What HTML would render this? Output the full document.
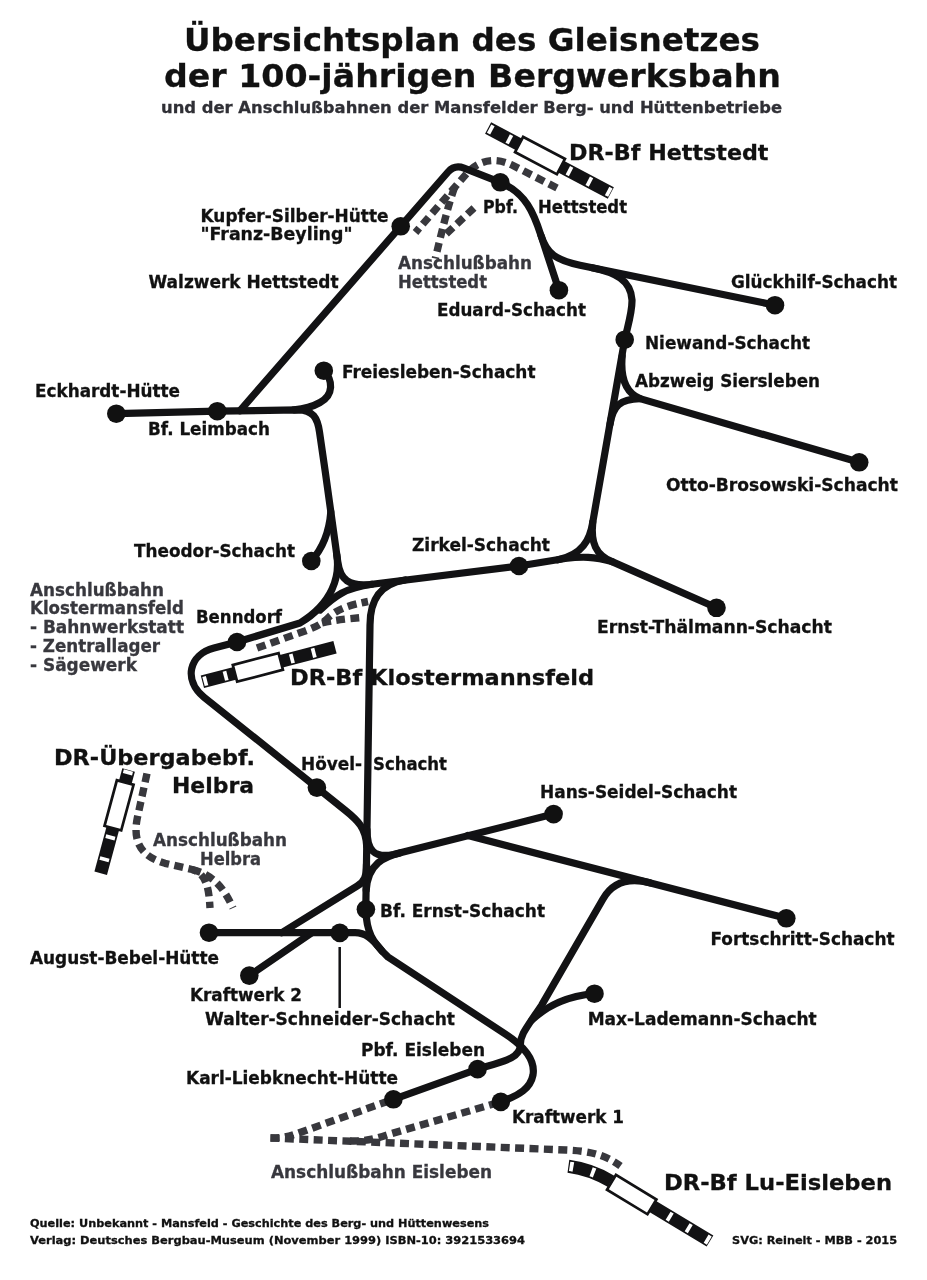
<!DOCTYPE html>
<html lang="de"><head><meta charset="utf-8"><title>Übersichtsplan des Gleisnetzes der Bergwerksbahn</title>
<style>html,body{margin:0;padding:0;background:#fff}svg{display:block;will-change:transform}text{font-family:"DejaVu Sans","Liberation Sans",sans-serif;font-weight:bold}</style></head><body>
<svg width="927" height="1280" viewBox="0 0 927 1280">
<rect width="927" height="1280" fill="#fff"/>
<g fill="none" stroke="#38383d" stroke-width="7.4" stroke-dasharray="9 5.4" stroke-linejoin="round">
<path d="M557,188 L512,165 C495,157 480,160 468,172 L415.5,232.5"/>
<path d="M454.5,187.5 C449,203 444,222 435.3,258.5"/>
<path d="M474,208 L445,235"/>
<path d="M257,648 L305,631 C318,626 322,624 330,616 C340,608 350,605 368,601.5"/>
<path d="M322,623 C335,620 345,619 362,617.5"/>
<path d="M147,773.5 L137.3,818 C132.5,842 141,856.5 165,863.3 L192,869.5 C207,873.5 209,890 210,908"/>
<path d="M192,869.5 C213,874.5 224,888 233,908"/>
<path d="M270.5,1138 L566,1150 C592,1151 606,1155.5 620.5,1166"/>
<path d="M270.5,1138 C285,1138 290,1136 300,1132.5 L393.4,1099.3"/>
<path d="M350,1141 C365,1141.5 375,1139 390,1134 L500.8,1101.9"/>
</g>
<g fill="none" stroke="#121214" stroke-width="7.2" stroke-linecap="round" stroke-linejoin="round">
<path d="M239.85,410.8 L448,172 Q454.6,164.5 464,168.1 L500.3,182.3 C526,193 534,214 541,235.5 L558.9,290.2"/>
<path d="M541,235.5 C547,254 556,260 580,265.2 L775,305.2"/>
<path d="M592,267.7 C615,272.3 631,280 632,300 C632.3,312 628,325 624.7,339.7 L592.8,522 C590,540 582,555 558,559.8"/>
<path d="M622.2,356 C620.5,375 624,392 640,398.6 L859.2,462.3"/>
<path d="M610.1,424 C612.8,406 620,399 640,398.6"/>
<path d="M116.3,413.7 L217.3,411.2 L298,409.8 C313,409.9 317.5,418 319.5,432 L325.3,472 L337.8,562 C340.3,580 349,586.5 370,584.5 L519,566 L565,558.5 C582,556.5 594,556.5 612,561.6 L716.5,607.8"/>
<path d="M592.8,522 C590.5,543 596,555 612,561.6"/>
<path d="M323.8,370.7 C333,380 334,395 320,402.5 C313,406.5 306,408.8 294,409.8"/>
<path d="M311.3,561 C322,549 329,535 330.8,512"/>
<path d="M336.8,555 C340,576 333,603 300,623 L237,642 L214,648 C189,654.5 183,680 204,697.2 L316.9,787.6 L345,810.1 C358,820.5 365.8,828 366.7,846"/>
<path d="M372,584.3 C345,588 335,596 320,610"/>
<path d="M405,580 C380,584 370,600 370,625 L365.8,909.3 C366.5,932 372,942 388,957 L506,1034.5 C528,1049 535,1063 533,1075 C530.5,1088 520,1095 500.8,1101.9"/>
<path d="M367,830 C367,850 374,858.5 393.4,854.5 L553.6,814.1"/>
<path d="M400,852.9 C385,856.5 368,863 366.2,890"/>
<path d="M366.5,864 C366.4,876 365,881.5 357,886.2 L281.7,932.7"/>
<path d="M468,835.5 L786.3,918.3"/>
<path d="M249.3,975.6 L311.8,932.7"/>
<path d="M209,932.7 L355,932.7 C365,932.7 372,938 382,951"/>
<path d="M650,882.85 C630,877.65 613,881.5 603,899 L541.8,1004.9 C525,1030 520.3,1035 520.3,1045 C520.3,1058 505,1061 477.6,1069.1 L393.4,1099.3"/>
<path d="M594.5,993.7 C570,996 550,1003 532,1020"/>
</g>
<path d="M339.7,947 L339.7,1008" stroke="#121214" stroke-width="2.5" fill="none"/>
<g fill="#111">
<circle cx="400.7" cy="226.3" r="9.3"/>
<circle cx="500.3" cy="182.3" r="9.3"/>
<circle cx="558.9" cy="290.2" r="9.3"/>
<circle cx="775" cy="305.2" r="9.3"/>
<circle cx="624.7" cy="339.7" r="9.3"/>
<circle cx="859.2" cy="462.3" r="9.3"/>
<circle cx="323.8" cy="370.7" r="9.3"/>
<circle cx="116.3" cy="413.7" r="9.3"/>
<circle cx="217.3" cy="411.2" r="9.3"/>
<circle cx="311.3" cy="561" r="9.3"/>
<circle cx="519" cy="566" r="9.3"/>
<circle cx="716.5" cy="607.8" r="9.3"/>
<circle cx="237" cy="642" r="9.3"/>
<circle cx="316.9" cy="787.6" r="9.3"/>
<circle cx="553.6" cy="814.1" r="9.3"/>
<circle cx="786.3" cy="918.3" r="9.3"/>
<circle cx="365.9" cy="909.3" r="9.3"/>
<circle cx="209" cy="932.7" r="9.3"/>
<circle cx="339.8" cy="932.9" r="9.3"/>
<circle cx="249.3" cy="975.6" r="9.3"/>
<circle cx="594.5" cy="993.7" r="9.3"/>
<circle cx="477.6" cy="1069.1" r="9.3"/>
<circle cx="393.4" cy="1099.3" r="9.3"/>
<circle cx="500.8" cy="1101.9" r="9.3"/>
</g>
<g transform="translate(488.1,128.1) rotate(27.84)"><rect x="0" y="-6.5" width="138.8" height="13" fill="#121214"/><rect x="1.15" y="-4.75" width="3.70" height="9.5" fill="#fff"/><rect x="22.15" y="-4.75" width="3.70" height="9.5" fill="#fff"/><rect x="90.15" y="-4.75" width="3.70" height="9.5" fill="#fff"/><rect x="112.65" y="-4.75" width="3.70" height="9.5" fill="#fff"/><rect x="134.55" y="-4.75" width="3.70" height="9.5" fill="#fff"/><rect x="35.05" y="-8.65" width="47.3" height="17.3" fill="#fff" stroke="#121214" stroke-width="2.7"/></g>
<g transform="translate(202.4,681.8) rotate(-14.58)"><rect x="0" y="-6.5" width="137.0" height="13" fill="#121214"/><rect x="1.15" y="-4.75" width="3.70" height="9.5" fill="#fff"/><rect x="22.15" y="-4.75" width="3.70" height="9.5" fill="#fff"/><rect x="90.65" y="-4.75" width="3.70" height="9.5" fill="#fff"/><rect x="113.15" y="-4.75" width="3.70" height="9.5" fill="#fff"/><rect x="33.65" y="-8.65" width="47.3" height="17.3" fill="#fff" stroke="#121214" stroke-width="2.7"/></g>
<g transform="translate(128.6,770) rotate(105.13)"><rect x="0" y="-6.5" width="106.9" height="13" fill="#121214"/><rect x="0.6" y="-4.75" width="3.80" height="9.5" fill="#fff"/><rect x="67.95" y="-4.75" width="3.70" height="9.5" fill="#fff"/><rect x="90.65" y="-4.75" width="3.70" height="9.5" fill="#fff"/><rect x="12.95" y="-8.65" width="47.3" height="17.3" fill="#fff" stroke="#121214" stroke-width="2.7"/></g>
<path d="M568.4,1166.2 C585,1168.5 598,1173.5 610,1180.8 L710,1241" fill="none" stroke="#121214" stroke-width="13"/>
<path d="M568.4,1166.2 C585,1168.5 598,1173.5 610,1180.8 L710,1241" fill="none" stroke="#fff" stroke-width="9.5" stroke-dasharray="3.7 18.5" stroke-dashoffset="-1.2"/>
<g transform="translate(631.7,1194.6) rotate(31.2)"><rect x="-23.65" y="-8.65" width="47.3" height="17.3" fill="#fff" stroke="#121214" stroke-width="2.7"/></g>
<text x="184" y="50.6" font-size="32" fill="#111" stroke="#111" stroke-width="0.3" textLength="576" lengthAdjust="spacingAndGlyphs">Übersichtsplan des Gleisnetzes</text>
<text x="164" y="87.1" font-size="32" fill="#111" stroke="#111" stroke-width="0.3" textLength="617" lengthAdjust="spacingAndGlyphs">der 100-jährigen Bergwerksbahn</text>
<text x="161" y="112.9" font-size="16" fill="#303036" stroke="#303036" stroke-width="0.3" textLength="621" lengthAdjust="spacingAndGlyphs">und der Anschlußbahnen der Mansfelder Berg- und Hüttenbetriebe</text>
<text x="569" y="160" font-size="22" fill="#111" stroke="#111" stroke-width="0.3" textLength="199.5" lengthAdjust="spacingAndGlyphs">DR-Bf Hettstedt</text>
<text x="200.5" y="221.9" font-size="17" fill="#111" stroke="#111" stroke-width="0.3" textLength="188" lengthAdjust="spacingAndGlyphs">Kupfer-Silber-Hütte</text>
<text x="200.5" y="240.4" font-size="17" fill="#111" stroke="#111" stroke-width="0.3" textLength="152" lengthAdjust="spacingAndGlyphs">&quot;Franz-Beyling&quot;</text>
<text x="148.5" y="288" font-size="17" fill="#111" stroke="#111" stroke-width="0.3" textLength="190" lengthAdjust="spacingAndGlyphs">Walzwerk Hettstedt</text>
<text x="483" y="213" font-size="17" fill="#111" stroke="#111" stroke-width="0.3" textLength="35" lengthAdjust="spacingAndGlyphs">Pbf.</text>
<text x="538" y="213" font-size="17" fill="#111" stroke="#111" stroke-width="0.3" textLength="89" lengthAdjust="spacingAndGlyphs">Hettstedt</text>
<text x="398" y="269.2" font-size="17" fill="#38383e" stroke="#38383e" stroke-width="0.3" textLength="134" lengthAdjust="spacingAndGlyphs">Anschlußbahn</text>
<text x="398" y="288" font-size="17" fill="#38383e" stroke="#38383e" stroke-width="0.3" textLength="89" lengthAdjust="spacingAndGlyphs">Hettstedt</text>
<text x="437" y="316.3" font-size="17" fill="#111" stroke="#111" stroke-width="0.3" textLength="149" lengthAdjust="spacingAndGlyphs">Eduard-Schacht</text>
<text x="731" y="288" font-size="17" fill="#111" stroke="#111" stroke-width="0.3" textLength="166" lengthAdjust="spacingAndGlyphs">Glückhilf-Schacht</text>
<text x="645" y="349" font-size="17" fill="#111" stroke="#111" stroke-width="0.3" textLength="165" lengthAdjust="spacingAndGlyphs">Niewand-Schacht</text>
<text x="635" y="386.8" font-size="17" fill="#111" stroke="#111" stroke-width="0.3" textLength="185" lengthAdjust="spacingAndGlyphs">Abzweig Siersleben</text>
<text x="666" y="491" font-size="17" fill="#111" stroke="#111" stroke-width="0.3" textLength="232" lengthAdjust="spacingAndGlyphs">Otto-Brosowski-Schacht</text>
<text x="342" y="377.6" font-size="17" fill="#111" stroke="#111" stroke-width="0.3" textLength="193.5" lengthAdjust="spacingAndGlyphs">Freiesleben-Schacht</text>
<text x="35" y="396.8" font-size="17" fill="#111" stroke="#111" stroke-width="0.3" textLength="145" lengthAdjust="spacingAndGlyphs">Eckhardt-Hütte</text>
<text x="148" y="434.8" font-size="17" fill="#111" stroke="#111" stroke-width="0.3" textLength="122" lengthAdjust="spacingAndGlyphs">Bf. Leimbach</text>
<text x="134" y="556.8" font-size="17" fill="#111" stroke="#111" stroke-width="0.3" textLength="161" lengthAdjust="spacingAndGlyphs">Theodor-Schacht</text>
<text x="412" y="550.8" font-size="17" fill="#111" stroke="#111" stroke-width="0.3" textLength="138" lengthAdjust="spacingAndGlyphs">Zirkel-Schacht</text>
<text x="597" y="632.8" font-size="17" fill="#111" stroke="#111" stroke-width="0.3" textLength="235" lengthAdjust="spacingAndGlyphs">Ernst-Thälmann-Schacht</text>
<text x="30" y="595.8" font-size="17" fill="#38383e" stroke="#38383e" stroke-width="0.3" textLength="134" lengthAdjust="spacingAndGlyphs">Anschlußbahn</text>
<text x="30" y="613.8" font-size="17" fill="#38383e" stroke="#38383e" stroke-width="0.3" textLength="154" lengthAdjust="spacingAndGlyphs">Klostermansfeld</text>
<text x="30" y="632.8" font-size="17" fill="#38383e" stroke="#38383e" stroke-width="0.3" textLength="154" lengthAdjust="spacingAndGlyphs">- Bahnwerkstatt</text>
<text x="30" y="651.8" font-size="17" fill="#38383e" stroke="#38383e" stroke-width="0.3" textLength="130" lengthAdjust="spacingAndGlyphs">- Zentrallager</text>
<text x="30" y="670.8" font-size="17" fill="#38383e" stroke="#38383e" stroke-width="0.3" textLength="107" lengthAdjust="spacingAndGlyphs">- Sägewerk</text>
<text x="196" y="622.8" font-size="17" fill="#111" stroke="#111" stroke-width="0.3" textLength="86" lengthAdjust="spacingAndGlyphs">Benndorf</text>
<text x="290" y="684.8" font-size="22" fill="#111" stroke="#111" stroke-width="0.3" textLength="304" lengthAdjust="spacingAndGlyphs">DR-Bf Klostermannsfeld</text>
<text x="54" y="765" font-size="22" fill="#111" stroke="#111" stroke-width="0.3" textLength="201" lengthAdjust="spacingAndGlyphs">DR-Übergabebf.</text>
<text x="172" y="793" font-size="22" fill="#111" stroke="#111" stroke-width="0.3" textLength="82" lengthAdjust="spacingAndGlyphs">Helbra</text>
<text x="301" y="769.8" font-size="17" fill="#111" stroke="#111" stroke-width="0.3" textLength="61" lengthAdjust="spacingAndGlyphs">Hövel-</text>
<text x="373" y="769.8" font-size="17" fill="#111" stroke="#111" stroke-width="0.3" textLength="74" lengthAdjust="spacingAndGlyphs">Schacht</text>
<text x="540" y="797.8" font-size="17" fill="#111" stroke="#111" stroke-width="0.3" textLength="197" lengthAdjust="spacingAndGlyphs">Hans-Seidel-Schacht</text>
<text x="153" y="845.8" font-size="17" fill="#38383e" stroke="#38383e" stroke-width="0.3" textLength="134" lengthAdjust="spacingAndGlyphs">Anschlußbahn</text>
<text x="200" y="864.8" font-size="17" fill="#38383e" stroke="#38383e" stroke-width="0.3" textLength="61" lengthAdjust="spacingAndGlyphs">Helbra</text>
<text x="380" y="916.8" font-size="17" fill="#111" stroke="#111" stroke-width="0.3" textLength="165" lengthAdjust="spacingAndGlyphs">Bf. Ernst-Schacht</text>
<text x="710.5" y="944.6" font-size="17" fill="#111" stroke="#111" stroke-width="0.3" textLength="184" lengthAdjust="spacingAndGlyphs">Fortschritt-Schacht</text>
<text x="30" y="963.8" font-size="17" fill="#111" stroke="#111" stroke-width="0.3" textLength="189" lengthAdjust="spacingAndGlyphs">August-Bebel-Hütte</text>
<text x="190" y="1000.8" font-size="17" fill="#111" stroke="#111" stroke-width="0.3" textLength="112" lengthAdjust="spacingAndGlyphs">Kraftwerk 2</text>
<text x="205" y="1024.8" font-size="17" fill="#111" stroke="#111" stroke-width="0.3" textLength="250" lengthAdjust="spacingAndGlyphs">Walter-Schneider-Schacht</text>
<text x="587.7" y="1024.8" font-size="17" fill="#111" stroke="#111" stroke-width="0.3" textLength="229" lengthAdjust="spacingAndGlyphs">Max-Lademann-Schacht</text>
<text x="361" y="1056" font-size="17" fill="#111" stroke="#111" stroke-width="0.3" textLength="124" lengthAdjust="spacingAndGlyphs">Pbf. Eisleben</text>
<text x="186" y="1083.8" font-size="17" fill="#111" stroke="#111" stroke-width="0.3" textLength="212" lengthAdjust="spacingAndGlyphs">Karl-Liebknecht-Hütte</text>
<text x="512" y="1123" font-size="17" fill="#111" stroke="#111" stroke-width="0.3" textLength="112" lengthAdjust="spacingAndGlyphs">Kraftwerk 1</text>
<text x="271" y="1178.2" font-size="17" fill="#38383e" stroke="#38383e" stroke-width="0.3" textLength="221" lengthAdjust="spacingAndGlyphs">Anschlußbahn Eisleben</text>
<text x="664" y="1189.6" font-size="22" fill="#111" stroke="#111" stroke-width="0.3" textLength="228" lengthAdjust="spacingAndGlyphs">DR-Bf Lu-Eisleben</text>
<text x="30" y="1227.2" font-size="11" fill="#111" stroke="#111" stroke-width="0.3" textLength="459" lengthAdjust="spacingAndGlyphs">Quelle: Unbekannt - Mansfeld - Geschichte des Berg- und Hüttenwesens</text>
<text x="30" y="1244" font-size="11" fill="#111" stroke="#111" stroke-width="0.3" textLength="495" lengthAdjust="spacingAndGlyphs">Verlag: Deutsches Bergbau-Museum (November 1999) ISBN-10: 3921533694</text>
<text x="732" y="1244" font-size="11" fill="#111" stroke="#111" stroke-width="0.3" textLength="165" lengthAdjust="spacingAndGlyphs">SVG: Reinelt - MBB - 2015</text>
</svg></body></html>
